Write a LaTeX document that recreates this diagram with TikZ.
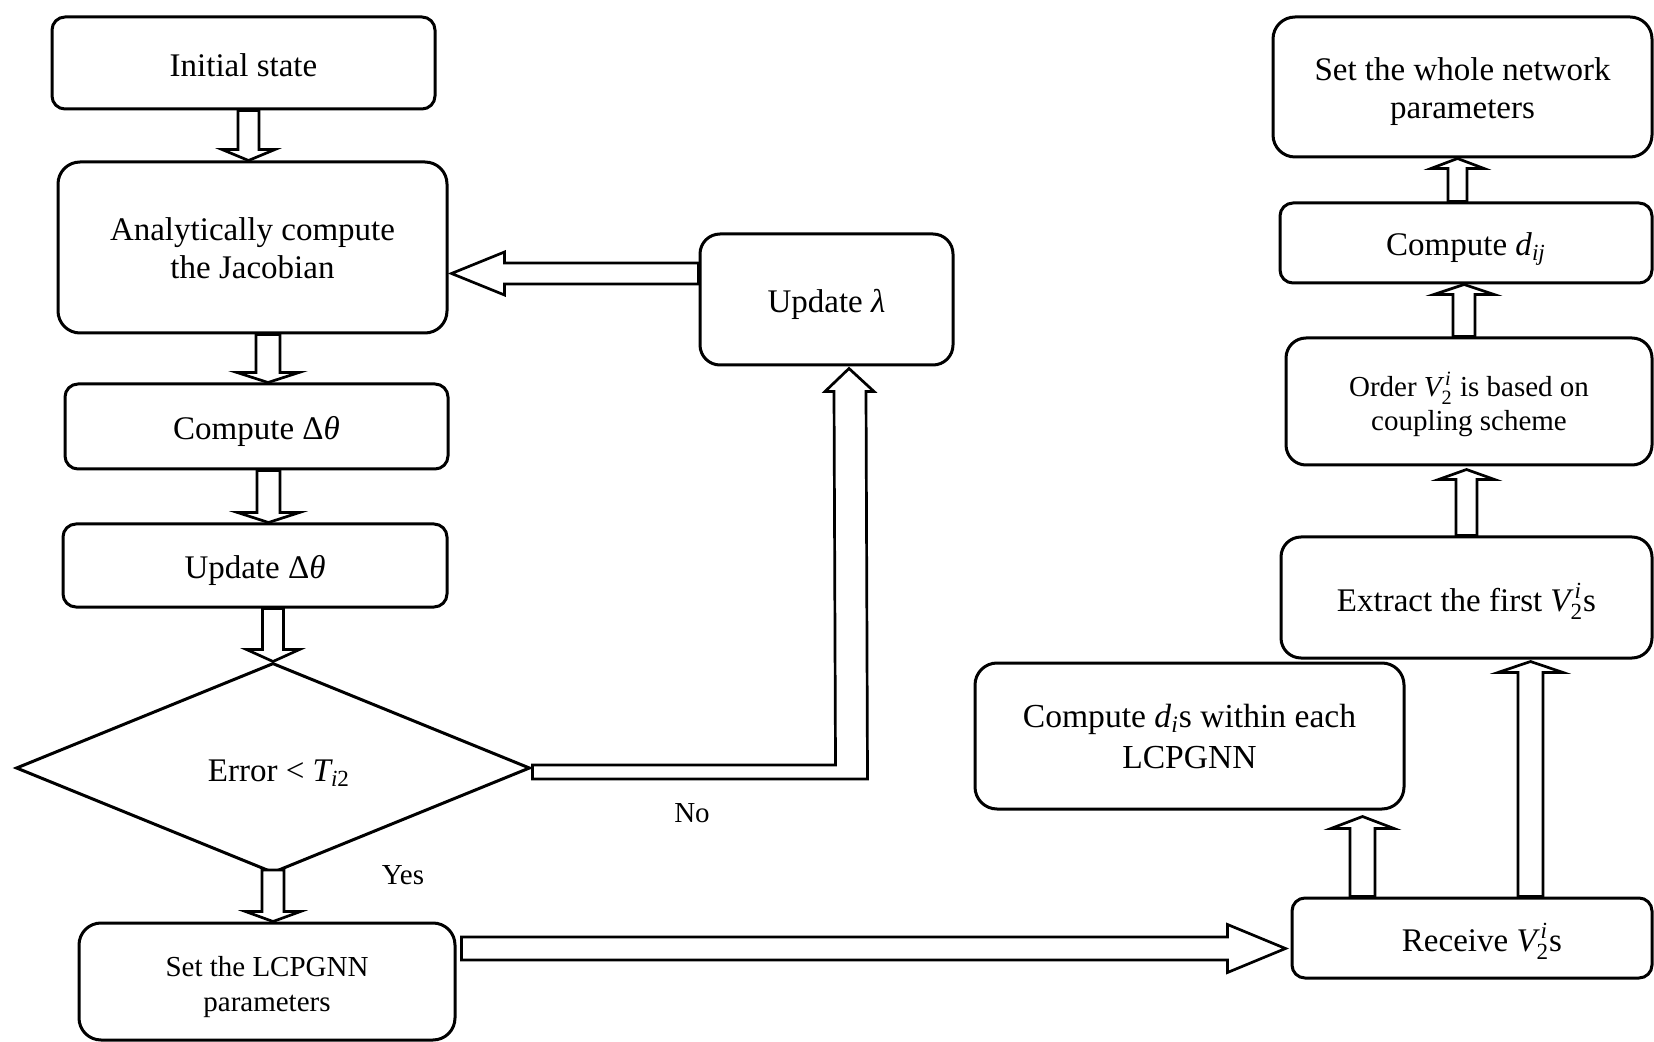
\documentclass[tikz,border=0pt]{standalone}
\usepackage{amsmath}
\usepackage{fontspec}
\setmainfont{Liberation Serif}
\usetikzlibrary{calc,shapes.geometric}

\newcommand\bigf{\fontsize{16.5pt}{19pt}\selectfont}
\newcommand\smallf{\fontsize{14.5pt}{17.5pt}\selectfont}
% V_2^i set in the text face
\newcommand\Vtwoi{$\text{\itshape V}^{\,\text{\itshape i}}_{\text{2}}$}
% node text: first baseline placed #1 above the node centre, lines stacked by \\
\newcommand\tx[2]{\raisebox{#1}[0pt][0pt]{\begin{tabular}[t]{@{}c@{}}#2\end{tabular}}}

% block arrows: tail, tip, shaft half width, head half width, head length
\newcommand\downblk[5]{\draw[blk] ($(#1)+(-#3,0)$) -- ($(#2)+(-#3,-#5)$) -- ($(#2)+(-#4,-#5)$) -- (#2) -- ($(#2)+(#4,-#5)$) -- ($(#2)+(#3,-#5)$) -- ($(#1)+(#3,0)$) -- cycle;}
\newcommand\upblk[5]{\draw[blk] ($(#1)+(-#3,0)$) -- ($(#2)+(-#3,#5)$) -- ($(#2)+(-#4,#5)$) -- (#2) -- ($(#2)+(#4,#5)$) -- ($(#2)+(#3,#5)$) -- ($(#1)+(#3,0)$) -- cycle;}
\newcommand\leftblk[5]{\draw[blk] ($(#1)+(0,-#3)$) -- ($(#2)+(#5,-#3)$) -- ($(#2)+(#5,-#4)$) -- (#2) -- ($(#2)+(#5,#4)$) -- ($(#2)+(#5,#3)$) -- ($(#1)+(0,#3)$) -- cycle;}
\newcommand\rightblk[5]{\draw[blk] ($(#1)+(0,-#3)$) -- ($(#2)+(-#5,-#3)$) -- ($(#2)+(-#5,-#4)$) -- (#2) -- ($(#2)+(-#5,#4)$) -- ($(#2)+(-#5,#3)$) -- ($(#1)+(0,#3)$) -- cycle;}

\tikzset{
  box/.style={draw, line width=1.5pt, rounded corners=#1, inner sep=0pt, font=\bigf},
  box/.default=6.5pt,
  blk/.style={draw, fill=white, line width=1.35pt, line join=miter},
  lbl/.style={inner sep=0pt, font=\smallf},
}

\begin{document}
\begin{tikzpicture}[x=0.5pt, y=-0.5pt]
\useasboundingbox (0,0) rectangle (1654,1042);

% left column
\node[box, minimum width=191.5pt, minimum height=46pt] (init) at (243.5,63) {\tx{-7pt}{Initial state}};
\node[box=11pt, minimum width=194.5pt, minimum height=85.5pt] (jac) at (252.5,247.5) {\tx{3.5pt}{Analytically compute\\the Jacobian}};
\node[box, minimum width=191.5pt, minimum height=42.5pt] (cdt) at (256.5,426.5) {\tx{-6.7pt}{Compute Δ\textit{θ}}};
\node[box, minimum width=192pt, minimum height=41.5pt] (udt) at (255,565.5) {\tx{-6.7pt}{Update Δ\textit{θ}}};
\node[draw, line width=1.5pt, diamond, inner sep=0pt, minimum width=257pt, minimum height=105pt, font=\bigf] (dec) at (273,768)
  {\tx{-6.7pt}{\hspace{6pt}Error < $\text{\itshape T}_{\text{\itshape i}\text{2}}$}};
\node[box=11pt, minimum width=188pt, minimum height=58.5pt, font=\smallf] (lcp) at (267,981.5) {\tx{2.75pt}{Set the LCPGNN\\parameters}};

% middle
\node[box=10pt, minimum width=126.5pt, minimum height=65.5pt] (lam) at (826.5,299.5) {\tx{-6.5pt}{Update \textit{λ}}};

% right column
\node[box=11pt, minimum width=189.5pt, minimum height=70pt] (whole) at (1462.5,87) {\tx{3.25pt}{Set the whole network\\parameters}};
\node[box, minimum width=186pt, minimum height=40pt] (dij) at (1466,243) {\tx{-6.2pt}{Compute \textit{d}$_{\text{\itshape ij}}$}};
\node[box=10pt, minimum width=183pt, minimum height=63.5pt, font=\fontsize{14.5pt}{17pt}\selectfont] (order) at (1469,401.5) {\tx{2.25pt}{Order \Vtwoi\ is based on\\coupling scheme}};
\node[box=10pt, minimum width=185.5pt, minimum height=60.5pt] (extract) at (1466.5,597.5) {\tx{-6.8pt}{Extract the first \Vtwoi s}};
\node[box=11pt, minimum width=214.5pt, minimum height=73pt, font=\fontsize{16.8pt}{20.5pt}\selectfont] (cdi) at (1189.5,736) {\tx{4.25pt}{Compute \textit{d}$_{\text{\itshape i}}$s within each\\LCPGNN}};
\node[box, minimum width=180pt, minimum height=40pt] (recv) at (1472,938) {\tx{-6.6pt}{\hspace{10pt}Receive \Vtwoi s}};

% labels
\node[lbl] (no) at (692,813) {No};
\node[lbl] (yes) at (403,875) {Yes};

% downward flow on the left
\downblk{248.5,0 |- init.south}{248.5,0 |- jac.north}{10.5}{26.5}{11}
\downblk{268,0 |- jac.south}{268,0 |- cdt.north}{12}{31}{10}
\downblk{268.5,0 |- cdt.south}{268.5,0 |- udt.north}{11.5}{31}{10}
\downblk{dec.north |- udt.south}{dec.north}{10.5}{26.5}{12}
\downblk{$(dec.south)+(0,-4.5)$}{dec.south |- lcp.north}{11}{27.5}{10}

% feedback from the update step
\leftblk{lam.west |- 0,273.5}{$(jac.east |- 0,273.5)+(3,0)$}{10.5}{21.5}{53}

% "No" branch up to the update step
\coordinate (nt) at ($(849,0 |- lam.south)+(0,2)$);
\coordinate (na) at ($(dec.east)+(1,-3)$);
\draw[blk] (na) -- ($(na)+(303,0)$) -- ($(nt)+(-15,23)$) -- ($(nt)+(-24,23)$) -- (nt)
  -- ($(nt)+(25,23)$) -- ($(nt)+(17,23)$) -- ($(na)+(335,14)$) -- ($(na)+(0,14)$) -- cycle;

% handover to the right column
\rightblk{$(lcp.east |- 0,948.5)+(5,0)$}{$(recv.west |- 0,948.5)+(-5,0)$}{11.5}{24}{58}

% upward flow on the right
\upblk{1362.5,0 |- recv.north}{$(1362.5,0 |- cdi.south)+(0,6)$}{12.5}{31.5}{12}
\upblk{1530.5,0 |- recv.north}{$(1530.5,0 |- extract.south)+(0,2)$}{12.5}{32.5}{11}
\upblk{1466.5,0 |- extract.north}{$(1466.5,0 |- order.south)+(0,3)$}{10.5}{28}{10}
\upblk{1464,0 |- order.north}{1464,0 |- dij.south}{11}{30}{10}
\upblk{1457.5,0 |- dij.north}{1457.5,0 |- whole.south}{9.5}{26.5}{10}
\end{tikzpicture}
\end{document}
